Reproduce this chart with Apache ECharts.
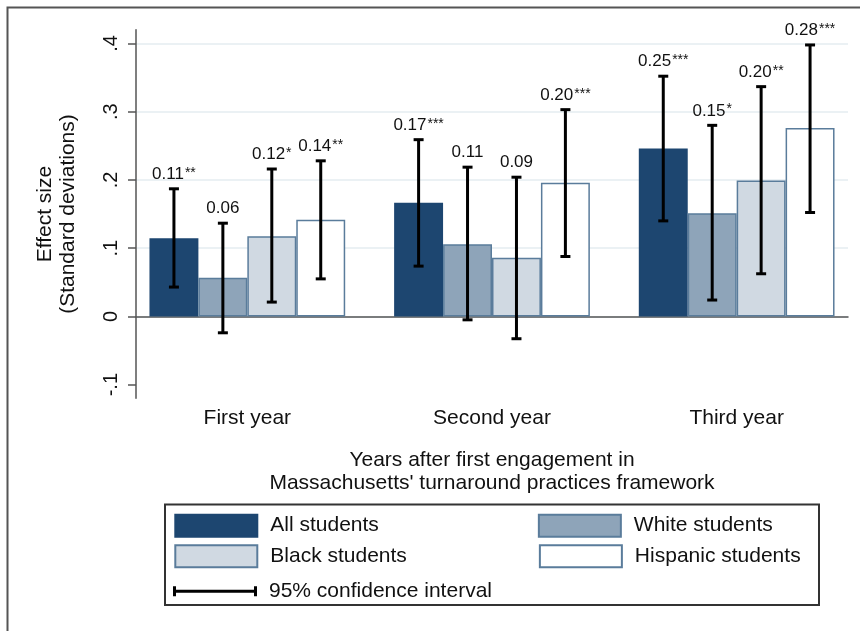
<!DOCTYPE html>
<html>
<head>
<meta charset="utf-8">
<script src="https://cdn.jsdelivr.net/npm/echarts@6/dist/echarts.min.js"></script>
<style>
  html, body { margin: 0; padding: 0; background: #ffffff; }
  #chart { width: 860px; height: 631px; }
</style>
</head>
<body>
<div id="chart"></div>
<script>
// Categories and groups
const categories = ['First year', 'Second year', 'Third year'];
const groupNames = ['All students', 'White students', 'Black students', 'Hispanic students'];

// Point estimates (standard deviations)
const allEst      = [0.1146, 0.1664, 0.246];
const whiteEst    = [0.0566, 0.1059, 0.1513];
const blackEst    = [0.1176, 0.0859, 0.199];
const hispanicEst = [0.1415, 0.196, 0.276];

// 95% confidence interval bounds
const allLow       = [0.043, 0.0737, 0.140];
const allHigh      = [0.187, 0.259, 0.352];
const whiteLow     = [-0.024, -0.005, 0.024];
const whiteHigh    = [0.1366, 0.2187, 0.280];
const blackLow     = [0.021, -0.0327, 0.0625];
const blackHigh    = [0.216, 0.204, 0.3367];
const hispanicLow  = [0.055, 0.0878, 0.1523];
const hispanicHigh = [0.228, 0.303, 0.3978];

// Significance markers
const allStars      = ['**', '***', '***'];
const whiteStars    = ['', '', '*'];
const blackStars    = ['*', '', '**'];
const hispanicStars = ['**', '***', '***'];

// Y-axis ticks
const yTicks = [-0.1, 0, 0.1, 0.2, 0.3, 0.4];
const yMin = -0.12;
const yMax = 0.42;

const estimates = [allEst, whiteEst, blackEst, hispanicEst];
const lows = [allLow, whiteLow, blackLow, hispanicLow];
const highs = [allHigh, whiteHigh, blackHigh, hispanicHigh];
const stars = [allStars, whiteStars, blackStars, hispanicStars];

const fills = ['#1d4670', '#8ea4b9', '#d0d9e2', '#ffffff'];
const borders = ['#1d4670', '#5a7c9b', '#5a7c9b', '#5a7c9b'];
const FONT = '"Liberation Sans", Arial, Helvetica, sans-serif';
const CAT_GAP = 0.2;

// One row per interval: [category, group, low, high, estimate]
const ciRows = [];
for (let c = 0; c < categories.length; c++) {
  for (let g = 0; g < groupNames.length; g++) {
    ciRows.push([c, g, lows[g][c], highs[g][c], estimates[g][c]]);
  }
}

function fmtTick(v) {
  if (Math.abs(v) < 1e-9) return '0';
  const s = String(Math.abs(v)).replace(/^0/, '');
  return (v < 0 ? '-' : '') + s;
}

function renderCI(params, api) {
  const cat = api.value(0), g = api.value(1);
  const lo = api.value(2), hi = api.value(3), est = api.value(4);
  const band = api.size([1, 0])[0];
  const barW = band * (1 - CAT_GAP) / groupNames.length;
  const cx = api.coord([cat, 0])[0] + (g - (groupNames.length - 1) / 2) * barW;
  const yHi = api.coord([cat, hi])[1];
  const yLo = api.coord([cat, lo])[1];
  const half = 5;
  const st = { stroke: '#000000', lineWidth: 3 };
  const mark = stars[g][cat];
  let text = '{n|' + est.toFixed(2) + '}';
  if (mark) text += '{s|' + mark + '}';
  return {
    type: 'group',
    children: [
      { type: 'line', shape: { x1: cx, y1: yHi, x2: cx, y2: yLo }, style: st },
      { type: 'line', shape: { x1: cx - half, y1: yHi, x2: cx + half, y2: yHi }, style: st },
      { type: 'line', shape: { x1: cx - half, y1: yLo, x2: cx + half, y2: yLo }, style: st },
      {
        type: 'text', x: cx, y: yHi - 6,
        style: {
          text: text, align: 'center', verticalAlign: 'bottom',
          rich: {
            n: { fontSize: 17, fontFamily: FONT, fill: '#111111' },
            s: { fontSize: 14, fontFamily: FONT, fill: '#111111', verticalAlign: 'top', padding: [0, 0, 0, 1] }
          }
        }
      }
    ]
  };
}

const barSeries = groupNames.map((name, g) => ({
  name: name,
  type: 'bar',
  xAxisIndex: 0,
  yAxisIndex: 0,
  data: estimates[g],
  barGap: '0%',
  barCategoryGap: (CAT_GAP * 100) + '%',
  itemStyle: { color: fills[g], borderColor: borders[g], borderWidth: 1.5 },
  emphasis: { disabled: true },
  z: 2
}));

const legendText = { fontSize: 21, fontFamily: FONT, color: '#111111', padding: [0, 0, 0, 8] };

const option = {
  animation: false,
  backgroundColor: '#ffffff',
  grid: [
    { left: 125, width: 734, top: 29.8, height: 368.5 },
    { left: 136, width: 712, top: 29.8, height: 368.5 }
  ],
  xAxis: [
    {
      type: 'category', gridIndex: 0, data: categories,
      axisLine: { show: false }, axisTick: { show: false },
      axisLabel: { fontSize: 21, fontFamily: FONT, color: '#111111', margin: 9 },
      splitLine: { show: false }
    },
    {
      type: 'value', gridIndex: 1, min: 0, max: 1,
      axisLine: { show: true, lineStyle: { color: '#555555', width: 1.5 } },
      axisTick: { show: false }, axisLabel: { show: false }, splitLine: { show: false },
      name: 'Years after first engagement in\nMassachusetts\' turnaround practices framework',
      nameLocation: 'middle', nameGap: 51,
      nameTextStyle: { fontSize: 21, fontFamily: FONT, color: '#111111', lineHeight: 22.5 }
    }
  ],
  yAxis: [
    {
      type: 'value', gridIndex: 0, min: yMin, max: yMax, show: false,
      splitLine: { show: false }
    },
    {
      type: 'value', gridIndex: 1, min: yMin, max: yMax,
      axisLine: { show: true, lineStyle: { color: '#555555', width: 1.5 } },
      axisTick: { show: true, length: 8, customValues: yTicks, lineStyle: { color: '#555555', width: 1.5 } },
      axisLabel: {
        customValues: yTicks, rotate: 90, margin: 15,
        fontSize: 20, fontFamily: FONT, color: '#111111',
        formatter: fmtTick
      },
      splitLine: {
        show: true,
        lineStyle: { color: ['rgba(0,0,0,0)', '#e4edf1', '#e4edf1', '#e4edf1', '#e4edf1', '#e4edf1'], width: 1.5 }
      },
      name: 'Effect size\n(Standard deviations)',
      nameLocation: 'middle', nameGap: 57,
      nameTextStyle: { fontSize: 21, fontFamily: FONT, color: '#111111', lineHeight: 22.4, align: 'center' }
    }
  ],
  legend: [
    {
      data: ['All students', 'White students'],
      left: 174.3, top: 513.7, padding: 0, itemWidth: 82, itemHeight: 22, itemGap: 159,
      icon: 'rect', selectedMode: false, textStyle: legendText
    },
    {
      data: ['Black students', 'Hispanic students'],
      left: 174.3, top: 544.3, padding: 0, itemWidth: 82, itemHeight: 22, itemGap: 132,
      icon: 'rect', selectedMode: false, textStyle: legendText
    },
    {
      data: [{ name: '95% confidence interval', icon: 'path://M0,0H3V10H0Z M3,3.5H81V6.5H3Z M81,0H84V10H81Z' }],
      left: 173, top: 580.7, padding: 0, itemWidth: 84, itemHeight: 10,
      selectedMode: false, textStyle: Object.assign({}, legendText, { padding: [0, 0, 0, 7] })
    }
  ],
  graphic: [
    {
      type: 'polyline', silent: true,
      shape: { points: [[7.5, 631], [7.5, 7.5], [860, 7.5]] },
      style: { stroke: '#555555', lineWidth: 2, fill: null }
    },
    {
      type: 'rect', silent: true,
      shape: { x: 165, y: 504.5, width: 654, height: 100.5 },
      style: { stroke: '#333333', lineWidth: 2, fill: null }
    }
  ],
  series: barSeries.concat([
    {
      name: '95% confidence interval',
      type: 'custom',
      xAxisIndex: 0,
      yAxisIndex: 0,
      data: ciRows,
      encode: { x: 0, y: [2, 3] },
      renderItem: renderCI,
      itemStyle: { color: '#000000' },
      z: 5
    }
  ])
};

const chart = echarts.init(document.getElementById('chart'), null, { renderer: 'canvas' });
chart.setOption(option);
</script>
</body>
</html>
